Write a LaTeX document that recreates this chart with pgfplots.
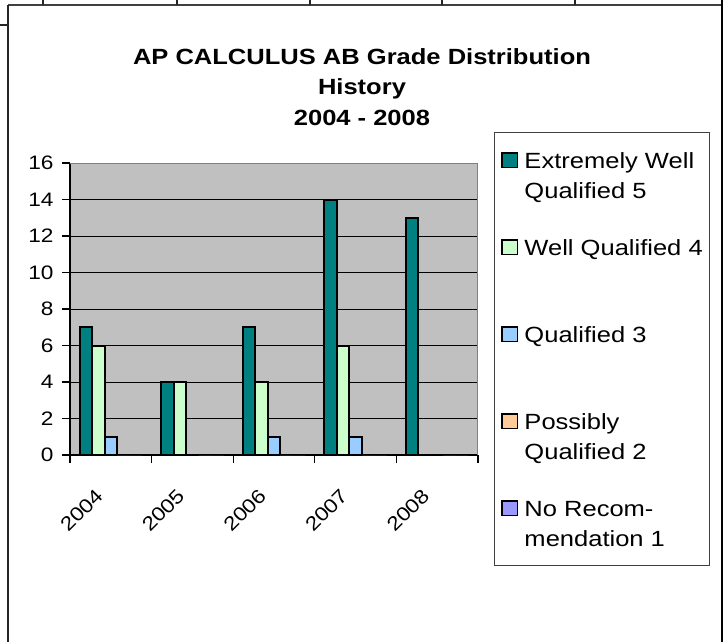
\documentclass[border=0pt]{standalone}
\usepackage{pgfplots}
\pgfplotsset{compat=1.18}
\usepackage{fontspec}
\setmainfont{Liberation Sans}[FakeStretch=1.16]
\definecolor{c5}{RGB}{0,128,128}
\definecolor{c4}{RGB}{204,255,204}
\definecolor{c3}{RGB}{153,204,255}
\definecolor{c2}{RGB}{255,204,153}
\definecolor{c1}{RGB}{153,153,255}
\definecolor{plotbg}{RGB}{192,192,192}
\begin{document}
\begin{tikzpicture}
\useasboundingbox (0,0) rectangle (724pt,-642pt);
% worksheet / chart frame lines
\draw[line width=1.5pt, black!75] (8pt,-5pt) -- (722pt,-5pt);
\foreach \x in {43,177,310,442,575} \draw[line width=1.5pt, black!85] (\x pt,0pt) -- (\x pt,-5pt);
\draw[line width=1.5pt, black!85] (0pt,-25pt) -- (8pt,-25pt);
\draw[line width=1.8pt, black!85] (8pt,-5pt) -- (8pt,-642pt);
\draw[line width=2.5pt, black] (722pt,0pt) -- (722pt,-642pt);
\begin{axis}[
  at={(70pt,-455pt)}, anchor=south west,
  scale only axis, width=408pt, height=292pt,
  xmin=-0.5, xmax=4.5, ymin=0, ymax=16,
  ybar=0pt, bar width=0.153,
  axis background/.style={fill=plotbg},
  axis x line*=bottom, axis y line*=left,
  axis line style={black, line width=1.2pt},
  tick align=outside,
  ytick={0,2,...,16},
  xtick={0,1,2,3,4},
  xticklabels={2004,2005,2006,2007,2008},
  minor xtick={-0.5,0.5,1.5,2.5,3.5,4.5},
  major x tick style={draw=none},
  major tick length=8pt, minor tick length=8pt,
  tick style={black, line width=1.2pt},
  ymajorgrids, major grid style={black, line width=1pt},
  tick label style={font=\fontsize{19.5}{20}\selectfont},
  /pgf/number format/assume math mode=true,
  yticklabel style={xshift=-5pt},
  xticklabel style={xshift=-9pt, yshift=-27pt, rotate=45, anchor=east},
  legend image code/.code={\draw[#1] (0.75pt,0.75pt) rectangle (16.25pt,15.25pt);},
  legend image post style={draw=black, line width=1.5pt},
  legend style={at={(1.0392,1.1062)}, anchor=north west, draw=black!75, line width=1pt,
    fill=white, inner xsep=7pt, inner ysep=1pt, row sep=0pt, column sep=6pt,
    font=\fontsize{22}{30.5}\selectfont,
    nodes={anchor=base west, inner sep=0pt, text depth={}, text height={}}},
]
\addplot[fill=c5, draw=black, line width=2pt] coordinates {(0,7) (1,4) (2,7) (3,14) (4,13)};
\addlegendentry{\rule[-52pt]{0pt}{87pt}\begin{tabular}[t]{@{}l@{}}Extremely Well\\Qualified 5\end{tabular}}
\addplot[fill=c4, draw=black, line width=2pt, y filter/.expression={y==0 ? nan : y}] coordinates {(0,6) (1,4) (2,4) (3,6) (4,0)};
\addlegendentry{\rule[-52pt]{0pt}{87pt}Well Qualified 4}
\addplot[fill=c3, draw=black, line width=2pt, y filter/.expression={y==0 ? nan : y}] coordinates {(0,1) (1,0) (2,1) (3,1) (4,0)};
\addlegendentry{\rule[-52pt]{0pt}{87pt}Qualified 3}
\addplot[fill=c2, draw=none] coordinates {(0,0) (1,0) (2,0) (3,0) (4,0)};
\addlegendentry{\rule[-52pt]{0pt}{87pt}\begin{tabular}[t]{@{}l@{}}Possibly\\Qualified 2\end{tabular}}
\addplot[fill=c1, draw=none] coordinates {(0,0) (1,0) (2,0) (3,0) (4,0)};
\addlegendentry{\rule[-48pt]{0pt}{83pt}\begin{tabular}[t]{@{}l@{}}No Recom-\\mendation 1\end{tabular}}
\draw[black!50, line width=1.5pt] (rel axis cs:0,1) -- (rel axis cs:1,1) -- (rel axis cs:1,0);
\end{axis}
\node[anchor=base, font=\fontsize{22}{26}\selectfont\bfseries] at (362pt,-65pt) {AP CALCULUS AB Grade Distribution};
\node[anchor=base, font=\fontsize{22}{26}\selectfont\bfseries] at (362pt,-95pt) {History};
\node[anchor=base, font=\fontsize{22}{26}\selectfont\bfseries] at (362pt,-125pt) {2004 - 2008};
\end{tikzpicture}
\end{document}
